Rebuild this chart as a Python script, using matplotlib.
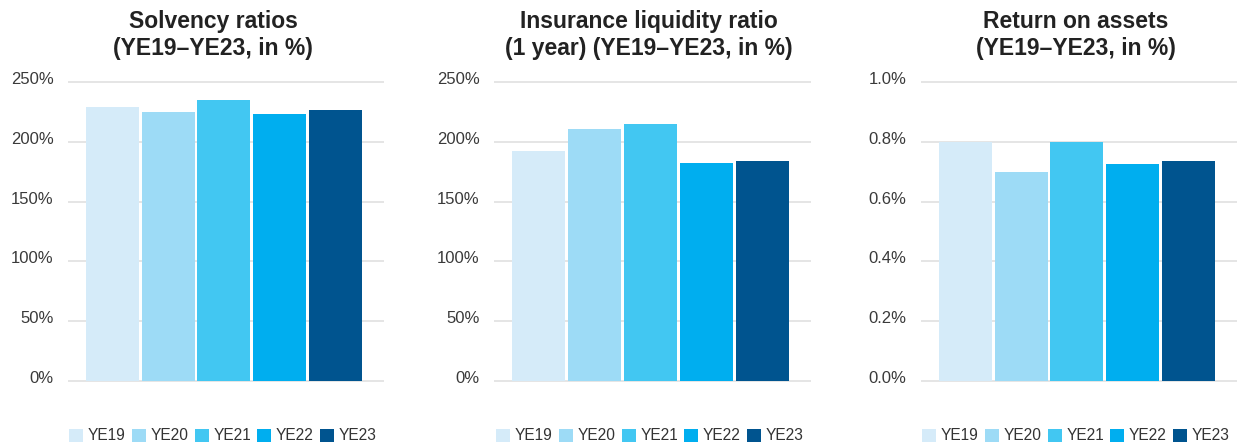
import matplotlib
matplotlib.use("Agg")
from matplotlib import pyplot as plt
from matplotlib.patches import Patch
import matplotlib.transforms as mtransforms

# Data
years = ["YE19", "YE20", "YE21", "YE22", "YE23"]
solvency = [229, 225, 235, 223, 227]
liquidity = [192, 211, 215, 182, 184]
roa = [0.80, 0.70, 0.80, 0.725, 0.735]

colors = ["#d5ebf9", "#9ddbf6", "#42c7f2", "#00aeef", "#00548f"]

titles = ["Solvency ratios\n(YE19\u2013YE23, in %)",
          "Insurance liquidity ratio\n(1 year) (YE19\u2013YE23, in %)",
          "Return on assets\n(YE19\u2013YE23, in %)"]

plt.rcParams['font.family'] = ['Liberation Sans', 'DejaVu Sans']

W, H = 1238, 446
fig = plt.figure(figsize=(W / 100, H / 100), dpi=100)

# pixel layout: (axes left, axes right, title centre, legend centre)
layout = [(68, 384, 213, 223), (494, 811, 649, 650), (921, 1237, 1076, 1076)]
y0_px, ytop_px = 381, 82

panels = [
    (solvency, [0, 50, 100, 150, 200, 250], ["0%", "50%", "100%", "150%", "200%", "250%"], 250),
    (liquidity, [0, 50, 100, 150, 200, 250], ["0%", "50%", "100%", "150%", "200%", "250%"], 250),
    (roa, [0, 0.2, 0.4, 0.6, 0.8, 1.0], ["0.0%", "0.2%", "0.4%", "0.6%", "0.8%", "1.0%"], 1.0),
]

for (vals, ticks, labels, top), (l, r, tc, lc), title in zip(panels, layout, titles):
    ppu = (y0_px - ytop_px) / top
    lo, hi = -2 / ppu, top + 3 / ppu
    bottom_px = y0_px - lo * ppu
    top_px = y0_px - hi * ppu
    ax = fig.add_axes([l / W, 1 - bottom_px / H, (r - l) / W, (bottom_px - top_px) / H])

    x = range(len(vals))
    ax.bar(x, vals, width=0.947, color=colors, zorder=3)
    ax.set_ylim(lo, hi)
    ax.set_xlim(-0.795, 4.87)
    ax.set_yticks(ticks)
    ax.set_yticklabels(labels)
    ax.set_xticks([])
    ax.yaxis.grid(True, color="#e3e3e3", linewidth=1.3, zorder=0)
    for s in ax.spines.values():
        s.set_visible(False)
    ax.tick_params(axis="y", length=0, pad=10.5, labelsize=12, labelcolor="#3a3a3a")
    off = mtransforms.ScaledTranslation(0, 4 / 100, fig.dpi_scale_trans)
    for lbl in ax.get_yticklabels():
        lbl.set_transform(lbl.get_transform() + off)

    fig.text(tc / W, 1 - 35 / H, title, ha="center", va="center",
             fontsize=16.5, fontweight="bold", color="#222222", linespacing=1.2)

    handles = [Patch(facecolor=c, edgecolor="none") for c in colors]
    fig.legend(handles, years, loc="center", bbox_to_anchor=(lc / W, 1 - 436 / H),
               ncol=5, frameon=False, fontsize=11.2, handlelength=0.9,
               handleheight=0.9, handletextpad=0.3, columnspacing=0.4,
               borderpad=0, labelcolor="#333333")

fig.savefig("out.png", dpi=100)
